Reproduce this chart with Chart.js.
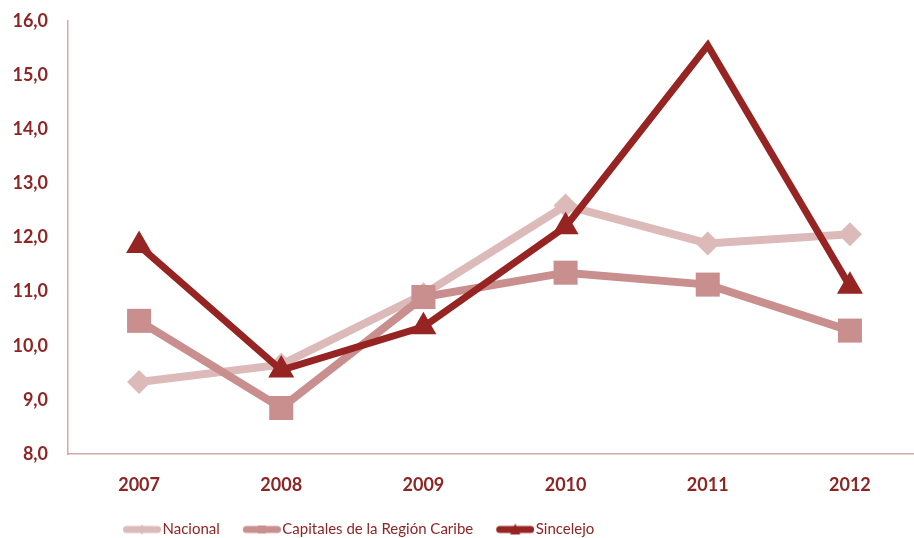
<!DOCTYPE html>
<html>
<head>
<meta charset="utf-8">
<script src="https://cdn.jsdelivr.net/npm/chart.js@4.4.0/dist/chart.umd.min.js"></script>
<style>
  body { margin: 0; background: #fff; overflow: hidden; }
</style>
</head>
<body>
<canvas id="chart" width="921" height="538"></canvas>
<script>
// chart data
const years = ['2007', '2008', '2009', '2010', '2011', '2012'];
const nacional = [9.33, 9.65, 10.95, 12.59, 11.89, 12.06];
const capitales = [10.46, 8.85, 10.9, 11.35, 11.13, 10.28];
const sincelejo = [11.85, 9.55, 10.35, 12.2, 15.55, 11.1];
const seriesNames = ['Nacional', 'Capitales de la Región Caribe', 'Sincelejo'];

const textColor = '#8e2525';
const axisColor = '#d8a8a8';
const colors = ['#ddbaba', '#c98f8f', '#952423'];

// legend swatch: empty gap on the left, then a thick line with the marker
function legendIcon(color, shape) {
  const c = document.createElement('canvas');
  c.width = 64; c.height = 16;
  const g = c.getContext('2d');
  g.strokeStyle = color;
  g.fillStyle = color;
  g.lineWidth = 7;
  g.lineCap = 'round';
  g.beginPath();
  g.moveTo(29.5, 8); g.lineTo(60.5, 8);
  g.stroke();
  g.beginPath();
  const cx = 45;
  if (shape === 'diamond') {
    g.moveTo(cx, 3); g.lineTo(cx + 4, 8); g.lineTo(cx, 13); g.lineTo(cx - 4, 8);
  } else if (shape === 'square') {
    g.rect(cx - 4, 4, 8, 8);
  } else {
    g.moveTo(cx, 2); g.lineTo(cx + 5, 13); g.lineTo(cx - 5, 13);
  }
  g.closePath();
  g.fill();
  return c;
}

const icons = [
  legendIcon(colors[0], 'diamond'),
  legendIcon(colors[1], 'square'),
  legendIcon(colors[2], 'triangle')
];

// move the legend to the left and a bit lower, like the original
const legendShift = {
  id: 'legendShift',
  afterLayout(chart) {
    chart.legend.left = 100;
    chart.legend.top = 519;
  }
};

const ctx = document.getElementById('chart');
const chart = new Chart(ctx, {
  type: 'line',
  data: {
    labels: years,
    datasets: [{
      label: seriesNames[0],
      data: nacional,
      borderColor: colors[0],
      backgroundColor: colors[0],
      borderWidth: 8,
      pointStyle: 'rectRot',
      pointRadius: 12,
      pointBorderWidth: 0,
      pointHoverRadius: 12,
      order: 2
    }, {
      label: seriesNames[1],
      data: capitales,
      borderColor: colors[1],
      backgroundColor: colors[1],
      borderWidth: 8,
      pointStyle: 'rect',
      pointRadius: 17,
      pointBorderWidth: 0,
      pointHoverRadius: 17,
      order: 1
    }, {
      label: seriesNames[2],
      data: sincelejo,
      borderColor: colors[2],
      backgroundColor: colors[2],
      borderWidth: 7,
      borderJoinStyle: 'miter',
      pointStyle: 'triangle',
      pointRadius: [15, 15, 15, 15, 0, 15],
      pointBorderWidth: 0,
      pointHoverRadius: 15,
      order: 0
    }]
  },
  options: {
    responsive: false,
    animation: false,
    devicePixelRatio: 1,
    layout: { autoPadding: false, padding: 0 },
    plugins: {
      tooltip: { enabled: false },
      legend: {
        position: 'bottom',
        align: 'start',
        labels: {
          usePointStyle: true,
          pointStyleWidth: 52,
          padding: 3,
          color: textColor,
          font: { family: 'Lato', size: 15 },
          generateLabels(chart) {
            return chart.data.datasets.map((ds, i) => ({
              text: ds.label,
              pointStyle: icons[i],
              fillStyle: colors[i],
              strokeStyle: colors[i],
              lineWidth: 0,
              fontColor: textColor,
              datasetIndex: i
            }));
          }
        }
      }
    },
    scales: {
      x: {
        offset: true,
        grid: { display: false, drawTicks: false, offset: true },
        border: { display: true, color: axisColor, width: 1.5 },
        ticks: {
          color: textColor,
          padding: 20,
          font: { family: 'Lato', size: 18, weight: 'bold' }
        },
        afterFit(s) { s.height = 56; }
      },
      y: {
        min: 8,
        max: 16,
        grid: { display: false, drawTicks: false },
        border: { display: true, color: axisColor, width: 1.5 },
        ticks: {
          stepSize: 1,
          color: textColor,
          padding: 20,
          font: { family: 'Lato', size: 18, weight: 'bold' },
          callback: (v) => v.toFixed(1).replace('.', ',')
        },
        afterFit(s) {
          s.width = 68;
          s.paddingTop = 21;
        }
      }
    }
  },
  plugins: [legendShift]
});
</script>
</body>
</html>
